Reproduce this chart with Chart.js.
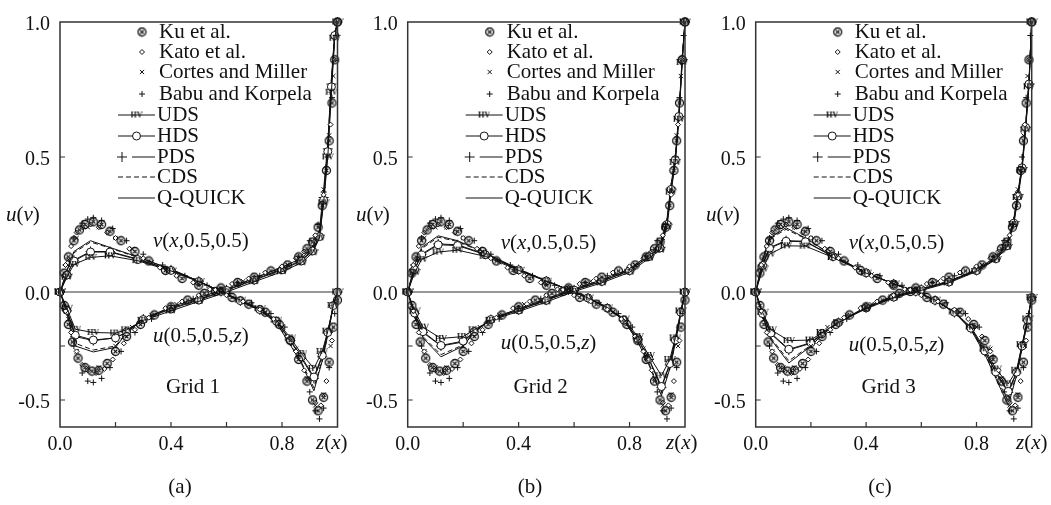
<!DOCTYPE html>
<html>
<head>
<meta charset="utf-8">
<script src="https://cdn.jsdelivr.net/npm/chart.js@4.4.1/dist/chart.umd.min.js"></script>
<style>
  body { margin: 0; background: #fff; }
  .panel { position: absolute; top: 0; height: 505px; }
</style>
</head>
<body>
<div class="panel" style="left:0;width:350px"><canvas id="chart-a" width="350" height="505"></canvas></div>
<div class="panel" style="left:350px;width:350px"><canvas id="chart-b" width="350" height="505"></canvas></div>
<div class="panel" style="left:700px;width:351px"><canvas id="chart-c" width="351" height="505"></canvas></div>
<script>
// axes
const xTickValues = [0, 0.2, 0.4, 0.6, 0.8, 1.0];
const xTickLabels = ['0.0', '', '0.4', '', '0.8', ''];
const yTickValues = [-0.4, -0.2, 0, 0.5, 1.0];
const yTickLabels = ['-0.5', '', '0.0', '0.5', '1.0'];

const schemes = ['UDS', 'HDS', 'PDS', 'CDS', 'Q-QUICK'];
const benchNames = ['Ku et al.', 'Kato et al.', 'Cortes and Miller', 'Babu and Korpela'];

// computed profiles, one row per scheme (same order as schemes)
const uNodes = [0, 0.025, 0.055, 0.12, 0.2, 0.24, 0.3, 0.4, 0.5, 0.6, 0.7, 0.8, 0.87, 0.91, 0.935, 0.95, 0.965, 0.978, 0.99, 1.0];
const vNodes = [0, 0.025, 0.05, 0.11, 0.18, 0.28, 0.4, 0.5, 0.58, 0.65, 0.72, 0.78, 0.83, 0.87, 0.915, 0.945, 0.965, 0.985, 1.0];

const uGrid1 = [
  [0, -0.06, -0.138, -0.15, -0.152, -0.14, -0.105, -0.07, -0.035, 0.0, 0.038, 0.075, 0.108, 0.145, 0.2, 0.33, 0.5, 0.74, 0.94, 1.0],
  [0, -0.068, -0.16, -0.178, -0.17, -0.148, -0.102, -0.063, -0.03, 0.006, 0.044, 0.082, 0.115, 0.152, 0.205, 0.34, 0.52, 0.76, 0.95, 1.0],
  [0, -0.07, -0.165, -0.18, -0.17, -0.15, -0.1, -0.06, -0.027, 0.008, 0.046, 0.085, 0.118, 0.155, 0.21, 0.35, 0.53, 0.77, 0.95, 1.0],
  [0, -0.075, -0.19, -0.215, -0.2, -0.15, -0.1, -0.058, -0.022, 0.01, 0.05, 0.09, 0.123, 0.16, 0.22, 0.36, 0.54, 0.78, 0.96, 1.0],
  [0, -0.08, -0.2, -0.222, -0.205, -0.152, -0.1, -0.055, -0.02, 0.012, 0.052, 0.092, 0.125, 0.165, 0.23, 0.38, 0.55, 0.79, 0.96, 1.0]
];
const vGrid1 = [
  [0, 0.055, 0.102, 0.128, 0.134, 0.116, 0.078, 0.038, 0.003, -0.03, -0.062, -0.104, -0.17, -0.228, -0.283, -0.22, -0.145, -0.05, 0],
  [0, 0.063, 0.115, 0.148, 0.148, 0.12, 0.08, 0.039, 0.002, -0.032, -0.065, -0.108, -0.178, -0.24, -0.315, -0.235, -0.15, -0.05, 0],
  [0, 0.065, 0.118, 0.15, 0.15, 0.122, 0.082, 0.04, 0.002, -0.033, -0.066, -0.11, -0.18, -0.245, -0.32, -0.24, -0.15, -0.05, 0],
  [0, 0.078, 0.145, 0.185, 0.163, 0.128, 0.084, 0.04, 0.0, -0.035, -0.068, -0.113, -0.19, -0.26, -0.355, -0.25, -0.16, -0.05, 0],
  [0, 0.08, 0.15, 0.19, 0.165, 0.13, 0.085, 0.04, 0.0, -0.035, -0.068, -0.115, -0.196, -0.265, -0.366, -0.255, -0.16, -0.05, 0]
];
const uGrid2 = [
  [0, -0.07, -0.13, -0.172, -0.165, -0.14, -0.105, -0.072, -0.037, 0.002, 0.034, 0.073, 0.125, 0.155, 0.24, 0.37, 0.48, 0.64, 0.85, 1.0],
  [0, -0.078, -0.147, -0.198, -0.182, -0.147, -0.102, -0.067, -0.031, 0.007, 0.039, 0.079, 0.131, 0.163, 0.25, 0.38, 0.49, 0.65, 0.86, 1.0],
  [0, -0.08, -0.15, -0.2, -0.185, -0.148, -0.102, -0.066, -0.03, 0.008, 0.04, 0.08, 0.133, 0.165, 0.255, 0.385, 0.49, 0.65, 0.86, 1.0],
  [0, -0.088, -0.165, -0.232, -0.196, -0.15, -0.1, -0.063, -0.026, 0.011, 0.044, 0.084, 0.138, 0.172, 0.265, 0.395, 0.5, 0.66, 0.87, 1.0],
  [0, -0.09, -0.17, -0.24, -0.2, -0.15, -0.1, -0.062, -0.025, 0.012, 0.045, 0.085, 0.14, 0.175, 0.27, 0.4, 0.5, 0.66, 0.87, 1.0]
];
const vGrid2 = [
  [0, 0.072, 0.12, 0.148, 0.155, 0.132, 0.08, 0.04, 0.008, -0.022, -0.058, -0.1, -0.165, -0.235, -0.31, -0.25, -0.17, -0.07, 0],
  [0, 0.083, 0.137, 0.175, 0.172, 0.138, 0.082, 0.041, 0.008, -0.022, -0.06, -0.104, -0.173, -0.247, -0.35, -0.265, -0.178, -0.075, 0],
  [0, 0.085, 0.14, 0.178, 0.175, 0.14, 0.083, 0.041, 0.008, -0.022, -0.06, -0.105, -0.175, -0.25, -0.354, -0.27, -0.18, -0.075, 0],
  [0, 0.098, 0.16, 0.203, 0.187, 0.143, 0.084, 0.042, 0.008, -0.021, -0.059, -0.106, -0.183, -0.265, -0.375, -0.28, -0.19, -0.08, 0],
  [0, 0.1, 0.165, 0.208, 0.19, 0.145, 0.085, 0.042, 0.008, -0.02, -0.058, -0.105, -0.185, -0.27, -0.384, -0.285, -0.19, -0.08, 0]
];
const uGrid3 = [
  [0, -0.075, -0.14, -0.18, -0.178, -0.15, -0.113, -0.062, -0.022, 0.006, 0.034, 0.076, 0.12, 0.165, 0.25, 0.35, 0.45, 0.6, 0.76, 1.0],
  [0, -0.08, -0.152, -0.212, -0.188, -0.154, -0.113, -0.059, -0.019, 0.009, 0.037, 0.079, 0.123, 0.171, 0.255, 0.355, 0.46, 0.61, 0.77, 1.0],
  [0, -0.082, -0.155, -0.215, -0.19, -0.155, -0.113, -0.058, -0.018, 0.01, 0.038, 0.08, 0.125, 0.173, 0.26, 0.36, 0.46, 0.61, 0.77, 1.0],
  [0, -0.088, -0.17, -0.255, -0.197, -0.158, -0.112, -0.056, -0.016, 0.011, 0.04, 0.082, 0.128, 0.178, 0.265, 0.365, 0.47, 0.62, 0.78, 1.0],
  [0, -0.09, -0.175, -0.263, -0.2, -0.16, -0.112, -0.055, -0.015, 0.012, 0.04, 0.083, 0.13, 0.18, 0.27, 0.37, 0.47, 0.62, 0.78, 1.0]
];
const vGrid3 = [
  [0, 0.085, 0.14, 0.171, 0.17, 0.128, 0.07, 0.03, 0.003, -0.03, -0.074, -0.13, -0.21, -0.285, -0.34, -0.29, -0.195, -0.1, -0.02],
  [0, 0.098, 0.162, 0.188, 0.186, 0.131, 0.071, 0.03, 0.002, -0.031, -0.075, -0.134, -0.218, -0.296, -0.368, -0.297, -0.2, -0.105, -0.02],
  [0, 0.1, 0.165, 0.19, 0.188, 0.132, 0.071, 0.03, 0.002, -0.031, -0.076, -0.135, -0.22, -0.3, -0.372, -0.3, -0.2, -0.105, -0.02],
  [0, 0.118, 0.196, 0.232, 0.198, 0.134, 0.072, 0.03, 0.002, -0.031, -0.076, -0.138, -0.226, -0.313, -0.405, -0.305, -0.207, -0.108, -0.02],
  [0, 0.12, 0.2, 0.238, 0.2, 0.135, 0.072, 0.03, 0.002, -0.03, -0.075, -0.14, -0.23, -0.32, -0.42, -0.31, -0.21, -0.11, -0.02]
];

// benchmark data, same in every panel
const kuZ = [0.015, 0.03, 0.045, 0.065, 0.09, 0.115, 0.14, 0.17, 0.2, 0.24, 0.29, 0.34, 0.4, 0.46, 0.52, 0.58, 0.64, 0.7, 0.76, 0.82, 0.86, 0.89, 0.91, 0.93, 0.945, 0.96, 0.97, 0.98, 0.99, 1.0];
const kuU = [-0.05, -0.12, -0.185, -0.245, -0.28, -0.293, -0.29, -0.265, -0.22, -0.165, -0.12, -0.085, -0.055, -0.03, -0.005, 0.015, 0.035, 0.055, 0.078, 0.1, 0.13, 0.16, 0.185, 0.24, 0.32, 0.45, 0.56, 0.7, 0.86, 1.0];
const kuX = [0.015, 0.03, 0.05, 0.07, 0.09, 0.12, 0.15, 0.18, 0.22, 0.27, 0.32, 0.38, 0.44, 0.5, 0.56, 0.62, 0.68, 0.74, 0.79, 0.83, 0.86, 0.89, 0.91, 0.93, 0.95, 0.97, 0.985, 1.0];
const kuV = [0.07, 0.13, 0.19, 0.23, 0.25, 0.26, 0.25, 0.225, 0.19, 0.15, 0.115, 0.08, 0.05, 0.025, 0.002, -0.02, -0.045, -0.075, -0.12, -0.18, -0.25, -0.33, -0.4, -0.44, -0.39, -0.26, -0.13, -0.03];

const katoZ = [0.02, 0.04, 0.06, 0.08, 0.1, 0.13, 0.16, 0.19, 0.23, 0.27, 0.32, 0.38, 0.44, 0.5, 0.56, 0.62, 0.68, 0.74, 0.8, 0.85, 0.88, 0.92, 0.95, 0.975, 0.99];
const katoU = [-0.07, -0.15, -0.22, -0.27, -0.29, -0.3, -0.285, -0.25, -0.19, -0.14, -0.095, -0.06, -0.035, -0.012, 0.008, 0.03, 0.05, 0.072, 0.095, 0.125, 0.15, 0.21, 0.36, 0.62, 0.86];
const katoX = [0.02, 0.04, 0.06, 0.08, 0.11, 0.14, 0.17, 0.2, 0.25, 0.3, 0.36, 0.42, 0.48, 0.54, 0.6, 0.66, 0.72, 0.77, 0.82, 0.85, 0.88, 0.92, 0.94, 0.96, 0.98];
const katoV = [0.1, 0.17, 0.22, 0.24, 0.25, 0.24, 0.22, 0.2, 0.16, 0.125, 0.09, 0.06, 0.035, 0.01, -0.012, -0.035, -0.065, -0.1, -0.165, -0.22, -0.29, -0.41, -0.42, -0.33, -0.18];

const cortesZ = [0.03, 0.06, 0.1, 0.14, 0.2, 0.26, 0.33, 0.42, 0.5, 0.58, 0.66, 0.74, 0.82, 0.88, 0.92, 0.95, 0.97, 0.985];
const cortesU = [-0.1, -0.22, -0.28, -0.28, -0.2, -0.13, -0.085, -0.045, -0.015, 0.012, 0.04, 0.07, 0.1, 0.145, 0.2, 0.38, 0.58, 0.8];
const cortesX = [0.03, 0.06, 0.1, 0.14, 0.2, 0.26, 0.33, 0.42, 0.5, 0.58, 0.66, 0.74, 0.8, 0.85, 0.89, 0.92, 0.95, 0.975];
const cortesV = [0.12, 0.2, 0.24, 0.24, 0.2, 0.16, 0.11, 0.065, 0.03, 0.0, -0.035, -0.075, -0.13, -0.21, -0.32, -0.42, -0.38, -0.2];

const babuZ = [0.02, 0.05, 0.08, 0.1, 0.12, 0.15, 0.18, 0.22, 0.27, 0.33, 0.4, 0.48, 0.56, 0.64, 0.72, 0.8, 0.86, 0.9, 0.93, 0.95, 0.965, 0.98, 0.995];
const babuU = [-0.07, -0.2, -0.3, -0.33, -0.335, -0.32, -0.28, -0.22, -0.15, -0.1, -0.06, -0.025, 0.005, 0.035, 0.06, 0.09, 0.13, 0.19, 0.25, 0.37, 0.5, 0.72, 0.95];
const babuX = [0.02, 0.05, 0.08, 0.1, 0.12, 0.15, 0.19, 0.24, 0.3, 0.37, 0.45, 0.53, 0.61, 0.69, 0.76, 0.81, 0.86, 0.9, 0.92, 0.935, 0.95, 0.97, 0.99];
const babuV = [0.1, 0.2, 0.255, 0.27, 0.275, 0.265, 0.235, 0.19, 0.14, 0.1, 0.06, 0.025, -0.005, -0.04, -0.08, -0.13, -0.24, -0.37, -0.44, -0.47, -0.43, -0.28, -0.08];

const INK = '#111';
const SERIF = '"Liberation Serif", "Times New Roman", serif';

function pts(xs, ys) {
  return xs.map((x, i) => ({ x: x, y: ys[i] }));
}

// little marks that Chart.js does not have
function kuMark() {
  const c = document.createElement('canvas');
  c.width = 11; c.height = 11;
  const g = c.getContext('2d');
  g.strokeStyle = INK; g.lineWidth = 1.3;
  g.beginPath(); g.arc(5.5, 5.5, 4, 0, Math.PI * 2); g.stroke();
  g.beginPath();
  g.moveTo(3.6, 3.6); g.lineTo(7.4, 7.4);
  g.moveTo(7.4, 3.6); g.lineTo(3.6, 7.4);
  g.stroke();
  return c;
}
function hvMark() {
  const c = document.createElement('canvas');
  c.width = 12; c.height = 9;
  const g = c.getContext('2d');
  g.fillStyle = INK;
  g.font = 'bold 8px ' + SERIF;
  g.textAlign = 'center';
  g.textBaseline = 'middle';
  g.fillText('HV', 6, 5);
  return c;
}

const benchStyles = [
  { pointStyle: kuMark(), radius: 5, bg: '#fff' },
  { pointStyle: 'rectRot', radius: 2.5, bg: '#fff' },
  { pointStyle: 'crossRot', radius: 3, bg: '#fff' },
  { pointStyle: 'cross', radius: 3, bg: '#fff' }
];
const schemeStyles = [
  { pointStyle: hvMark(), radius: 5, dash: [] },
  { pointStyle: 'circle', radius: 4, dash: [] },
  { pointStyle: 'cross', radius: 5, dash: [] },
  { pointStyle: false, radius: 0, dash: [5, 3] },
  { pointStyle: false, radius: 0, dash: [] }
];
const benchU = [[kuZ, kuU], [katoZ, katoU], [cortesZ, cortesU], [babuZ, babuU]];
const benchV = [[kuX, kuV], [katoX, katoV], [cortesX, cortesV], [babuX, babuV]];

const legendRows = [32, 52, 72, 94, 115, 136, 157, 177, 198];

function richText(ctx, parts, x, y, size) {
  parts.forEach((p) => {
    ctx.font = (p[1] ? 'italic ' : '') + size + 'px ' + SERIF;
    ctx.fillText(p[0], x, y);
    x += ctx.measureText(p[0]).width;
  });
}

const decor = {
  id: 'decor',
  beforeDatasetsDraw(chart) {
    const ctx = chart.ctx, a = chart.chartArea;
    const y0 = chart.scales.y.getPixelForValue(0);
    ctx.save();
    ctx.strokeStyle = '#333'; ctx.lineWidth = 1.2;
    ctx.beginPath(); ctx.moveTo(a.left, y0); ctx.lineTo(a.right, y0); ctx.stroke();
    ctx.restore();
  },
  afterDraw(chart) {
    const ctx = chart.ctx, a = chart.chartArea;
    const p = chart.options.plugins.decor;
    const xs = chart.scales.x, ys = chart.scales.y;
    ctx.save();
    // frame and inward ticks
    ctx.strokeStyle = '#333'; ctx.lineWidth = 1.5;
    ctx.strokeRect(a.left, a.top, a.right - a.left, a.bottom - a.top);
    ctx.lineWidth = 1.2;
    ctx.beginPath();
    xTickValues.slice(1, -1).forEach((v) => {
      const px = xs.getPixelForValue(v);
      ctx.moveTo(px, a.bottom); ctx.lineTo(px, a.bottom - 5);
    });
    yTickValues.filter((v) => v !== 0 && v !== 1).forEach((v) => {
      const py = ys.getPixelForValue(v);
      ctx.moveTo(a.left, py); ctx.lineTo(a.left + 5, py);
    });
    ctx.stroke();

    // legend
    ctx.textBaseline = 'middle';
    ctx.textAlign = 'left';
    const H = Chart.helpers;
    benchStyles.forEach((s, i) => {
      const y = legendRows[i];
      ctx.strokeStyle = INK; ctx.fillStyle = '#fff'; ctx.lineWidth = 1;
      H.drawPoint(ctx, { pointStyle: s.pointStyle, radius: s.radius, rotation: 0, borderWidth: 1 }, a.left + 82, y);
      ctx.fillStyle = INK;
      ctx.font = '21px ' + SERIF;
      ctx.fillText(benchNames[i], a.left + 99, y);
    });
    schemeStyles.forEach((s, i) => {
      const y = legendRows[i + 4];
      const x0 = a.left + 58, x1 = a.left + 95;
      ctx.strokeStyle = INK; ctx.lineWidth = 1;
      ctx.setLineDash(s.dash);
      ctx.beginPath();
      if (schemes[i] === 'PDS') { ctx.moveTo(x0 + 14, y); } else { ctx.moveTo(x0, y); }
      ctx.lineTo(x1, y); ctx.stroke();
      ctx.setLineDash([]);
      if (s.pointStyle) {
        const mx = schemes[i] === 'PDS' ? x0 + 4 : (x0 + x1) / 2;
        ctx.fillStyle = '#fff';
        H.drawPoint(ctx, { pointStyle: s.pointStyle, radius: s.radius, rotation: 0, borderWidth: 1 }, mx, y);
      }
      ctx.fillStyle = INK;
      ctx.font = '21px ' + SERIF;
      ctx.fillText(schemes[i], a.left + 97, y);
    });

    // annotations
    ctx.fillStyle = INK;
    richText(ctx, [['v', 1], ['(', 0], ['x', 1], [',0.5,0.5)', 0]], a.left + 93, p.vLabelY, 21);
    richText(ctx, [['u', 1], ['(0.5,0.5,', 0], ['z', 1], [')', 0]], a.left + 93, p.uLabelY, 21);
    ctx.font = '21px ' + SERIF;
    ctx.textAlign = 'center';
    ctx.fillText(p.grid, a.left + 133, 387);
    ctx.fillText(p.caption, 180, 487);
    ctx.textAlign = 'left';
    richText(ctx, [['u', 1], ['(', 0], ['v', 1], [')', 0]], 6, 215, 21);
    richText(ctx, [['z', 1], ['(', 0], ['x', 1], [')', 0]], 316, 443, 21);
    ctx.restore();
  }
};

const panels = [
  { id: 'chart-a', grid: 'Grid 1', caption: '(a)', u: uGrid1, v: vGrid1, pad: { left: 5, right: 12.5, top: 14, bottom: 48 }, vLabelY: 241, uLabelY: 336 },
  { id: 'chart-b', grid: 'Grid 2', caption: '(b)', u: uGrid2, v: vGrid2, pad: { left: 2.7, right: 15, top: 14, bottom: 48 }, vLabelY: 243, uLabelY: 343 },
  { id: 'chart-c', grid: 'Grid 3', caption: '(c)', u: uGrid3, v: vGrid3, pad: { left: 0.7, right: 19.3, top: 14, bottom: 48 }, vLabelY: 243, uLabelY: 345 }
];

function buildDatasets(panel) {
  const sets = [];
  benchU.concat(benchV).forEach((b, k) => {
    const s = benchStyles[k % 4];
    sets.push({
      data: pts(b[0], b[1]), showLine: false,
      pointStyle: s.pointStyle, pointRadius: s.radius,
      pointBackgroundColor: s.bg, pointBorderColor: INK, pointBorderWidth: 1,
      clip: false
    });
  });
  schemes.forEach((name, i) => {
    const s = schemeStyles[i];
    [[uNodes, panel.u[i]], [vNodes, panel.v[i]]].forEach((prof) => {
      sets.push({
        label: name,
        data: pts(prof[0], prof[1]), showLine: true,
        borderColor: INK, borderWidth: 1, borderDash: s.dash,
        pointStyle: s.pointStyle || 'circle', pointRadius: s.radius,
        pointBackgroundColor: '#fff', pointBorderColor: INK, pointBorderWidth: 1,
        tension: 0, clip: false
      });
    });
  });
  return sets;
}

panels.forEach((panel) => {
  new Chart(document.getElementById(panel.id), {
    type: 'scatter',
    data: { datasets: buildDatasets(panel) },
    options: {
      responsive: false,
      animation: false,
      events: [],
      layout: { padding: panel.pad },
      plugins: {
        legend: { display: false },
        tooltip: { enabled: false },
        decor: { grid: panel.grid, caption: panel.caption, vLabelY: panel.vLabelY, uLabelY: panel.uLabelY }
      },
      scales: {
        x: {
          type: 'linear', min: 0, max: 1,
          afterBuildTicks: (s) => { s.ticks = xTickValues.map((v) => ({ value: v })); },
          afterFit: (s) => { s.height = 30; },
          ticks: {
            autoSkip: false, maxRotation: 0, padding: 6, color: INK,
            font: { family: SERIF, size: 20 },
            callback: (v, i) => xTickLabels[i]
          },
          grid: { display: false, drawTicks: false },
          border: { display: false }
        },
        y: {
          type: 'linear', min: -0.5, max: 1.0,
          afterBuildTicks: (s) => { s.ticks = yTickValues.map((v) => ({ value: v })); },
          afterFit: (s) => { s.width = 55; },
          ticks: {
            autoSkip: false, padding: 10, color: INK, labelOffset: 3,
            font: { family: SERIF, size: 20 },
            callback: (v, i) => yTickLabels[i]
          },
          grid: { display: false, drawTicks: false },
          border: { display: false }
        }
      }
    },
    plugins: [decor]
  });
});
</script>
</body>
</html>
